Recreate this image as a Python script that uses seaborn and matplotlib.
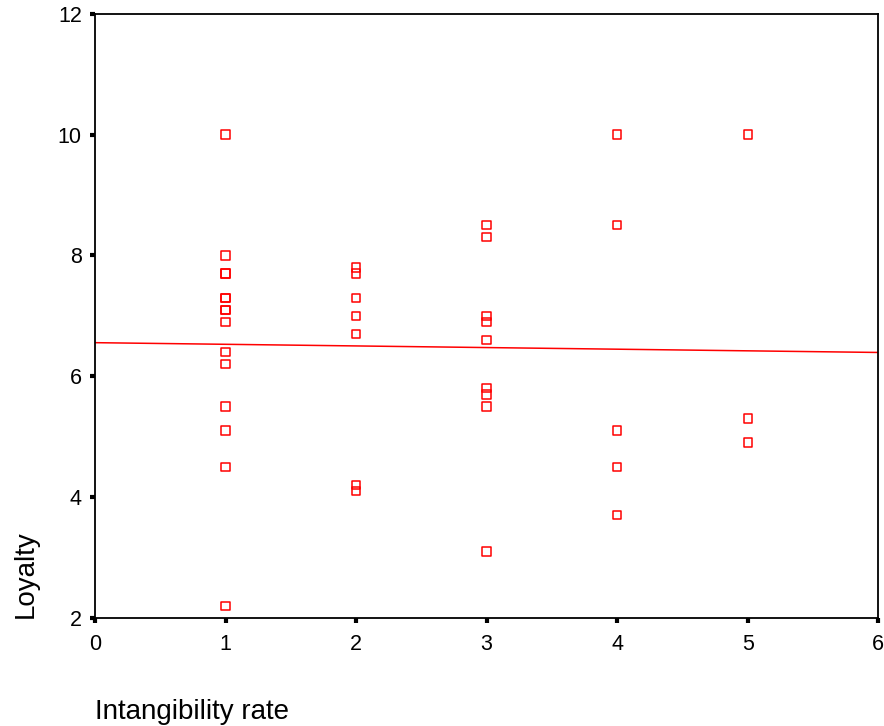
import matplotlib
matplotlib.use("Agg")
import matplotlib.pyplot as plt
import pandas as pd
import seaborn as sns

# Values (x = intangibility rate, y = loyalty)
x1 = [1] * 15
y1 = [10.0, 8.0, 7.7, 7.7, 7.3, 7.3, 7.1, 7.1, 6.9, 6.4, 6.2, 5.5, 5.1, 4.5, 2.2]
x2 = [2] * 7
y2 = [7.8, 7.7, 7.3, 7.0, 6.7, 4.2, 4.1]
x3 = [3] * 9
y3 = [8.5, 8.3, 7.0, 6.9, 6.6, 5.8, 5.7, 5.5, 3.1]
x4 = [4] * 5
y4 = [10.0, 8.5, 5.1, 4.5, 3.7]
x5 = [5] * 3
y5 = [10.0, 5.3, 4.9]

xticks = [0, 1, 2, 3, 4, 5, 6]
yticks = [2, 4, 6, 8, 10, 12]

df = pd.DataFrame({
    'Intangibility rate': x1 + x2 + x3 + x4 + x5,
    'Loyalty': y1 + y2 + y3 + y4 + y5,
})

sns.set_style('white')
plt.rcParams['font.family'] = ['Liberation Sans', 'DejaVu Sans']

fig = plt.figure(figsize=(8.84, 7.26), dpi=100)
ax = fig.add_axes([0.1075, 0.149, 0.886, 0.832])

ax.set_xlim(0, 6)
ax.set_ylim(2, 12)

sns.scatterplot(data=df, x='Intangibility rate', y='Loyalty', ax=ax,
                marker='s', s=36, facecolor='none', edgecolor='red',
                linewidth=1.1, zorder=3)
# fitted line over the full x range
sns.regplot(data=df, x='Intangibility rate', y='Loyalty', ax=ax,
            scatter=False, ci=None, truncate=False,
            line_kws={'color': 'red', 'linewidth': 1.1})

ax.set_xlim(0, 6)
ax.set_ylim(2, 12)
ax.set_xticks(xticks)
ax.set_yticks(yticks)

for sp in ax.spines.values():
    sp.set_color('black')
    sp.set_linewidth(1.3)

ax.tick_params(axis='both', direction='out', length=3.5, width=3,
               color='black', labelsize=15.5, labelcolor='black',
               bottom=True, left=True)
ax.tick_params(axis='x', pad=8)
ax.tick_params(axis='y', pad=6)

ax.set_xlabel('Intangibility rate', fontsize=20, loc='left', labelpad=32,
              color='black')
ax.set_ylabel('Loyalty', fontsize=20, loc='bottom', labelpad=14,
              color='black')

fig.savefig('out.png', dpi=100)
